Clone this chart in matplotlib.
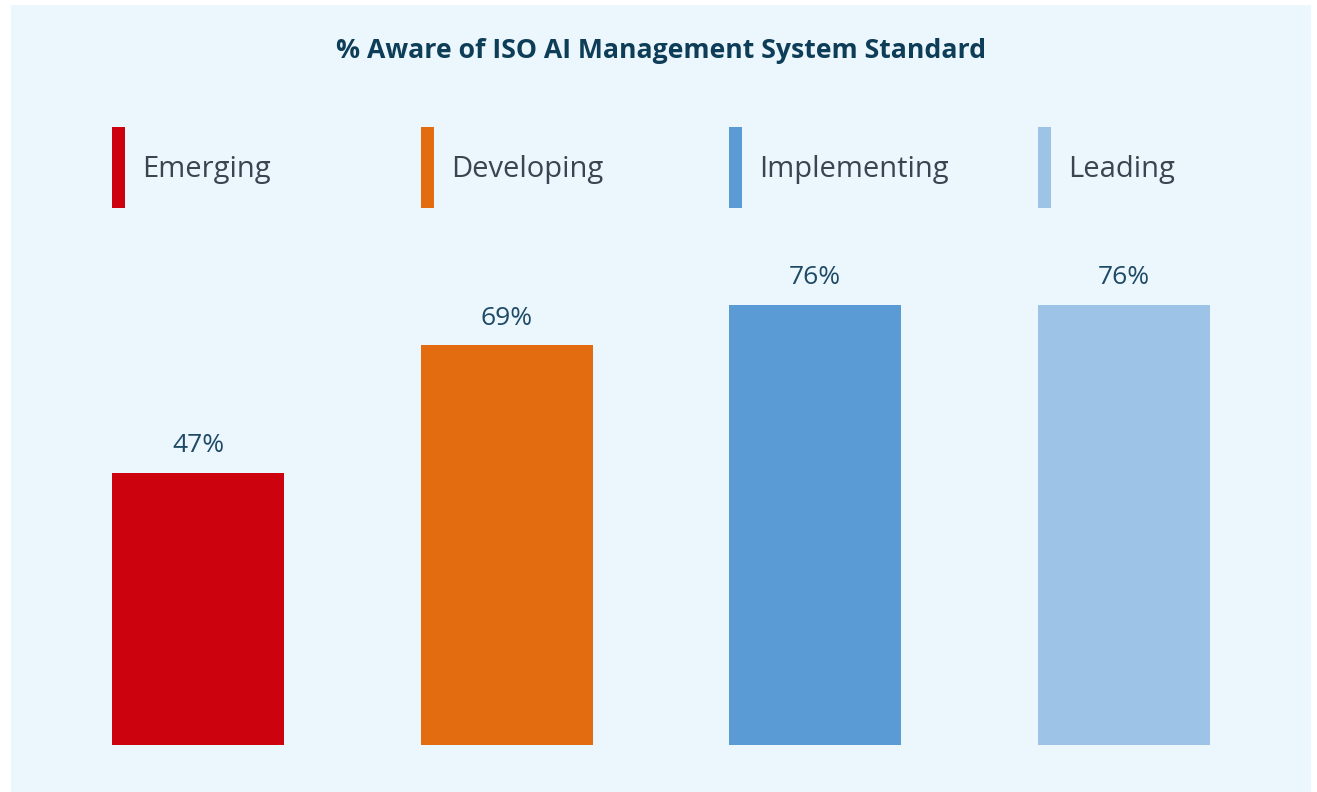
import matplotlib.pyplot as plt
from matplotlib.patches import Rectangle

plt.rcParams['font.family'] = ['Open Sans', 'DejaVu Sans']

categories = ["Emerging", "Developing", "Implementing", "Leading"]
values = [47, 69, 76, 76]
colors = ["#CC030E", "#E36C10", "#5B9BD5", "#9DC3E6"]

W, H = 1317, 792
fig = plt.figure(figsize=(W / 100, H / 100), dpi=100)
fig.patch.set_facecolor("white")

# light panel
fig.patches.append(Rectangle((11 / W, 0), 1300 / W, 787 / H, transform=fig.transFigure,
                             facecolor="#EBF6FD", edgecolor="none", zorder=-1))

fig.text(661 / W, 1 - 51 / H, "% Aware of ISO AI Management System Standard",
         ha="center", va="center", fontsize=19.2, fontweight="bold", color="#0E3D58")

# bars
ax = fig.add_axes([43.75 / W, 47 / H, 1234.5 / W, 579 / H])
ax.set_zorder(2)
ax.set_facecolor("none")
x = range(len(categories))
ax.bar(x, values, width=0.557, color=colors)
for xi, v in zip(x, values):
    ax.text(xi, v + 2.5, f"{v}%", ha="center", va="bottom", fontsize=19, color="#1E4A66")
ax.set_xlim(-0.5, 3.5)
ax.set_ylim(0, 100)
ax.axis("off")

# legend with vertical markers
for xi, (name, c) in enumerate(zip(categories, colors)):
    left = 112 + xi * 308.7
    fig.patches.append(Rectangle((left / W, 1 - 208 / H), 13 / W, 81 / H,
                                 transform=fig.transFigure, facecolor=c, edgecolor="none"))
    fig.text((left + 30) / W, 1 - 170 / H, name, ha="left", va="center",
             fontsize=21, color="#3A4552")

fig.savefig("out.png", dpi=100, facecolor=fig.get_facecolor())
